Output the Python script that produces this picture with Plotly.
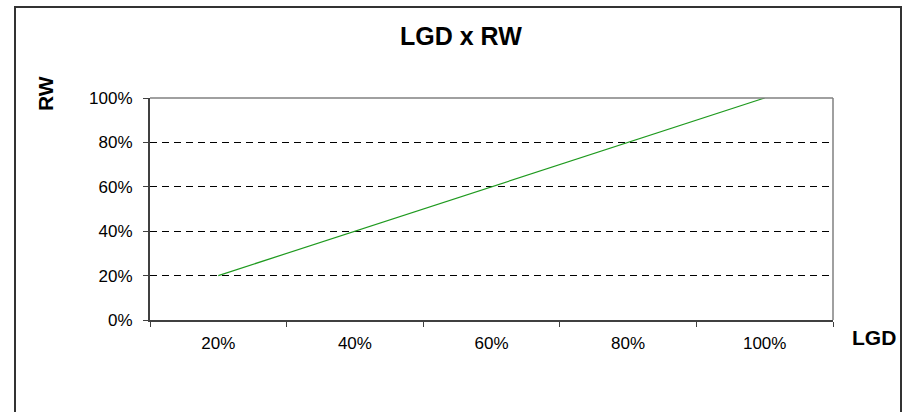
import plotly.graph_objects as go

lgd_labels = ["20%", "40%", "60%", "80%", "100%"]
rw_values = [0.2, 0.4, 0.6, 0.8, 1.0]

W, H = 905, 412
L, R, T, B = 150, 72, 98, 92
pw, ph = W - L - R, H - T - B

def px(x):
    return (x - L) / pw

def py(y):
    return (H - B - y) / ph

fig = go.Figure()
fig.add_trace(go.Scatter(
    x=lgd_labels, y=rw_values, mode="lines",
    line=dict(color="#1f9a1f", width=1.2),
    showlegend=False, hoverinfo="skip", cliponaxis=False,
))

font_family = "Liberation Sans, Arial, sans-serif"

fig.update_layout(
    width=W, height=H,
    margin=dict(l=L, r=R, t=T, b=B, pad=0),
    paper_bgcolor="white", plot_bgcolor="white",
    font=dict(family=font_family, color="black", size=17),
    xaxis=dict(
        type="category", tickson="boundaries", range=[-0.5, 4.5],
        showgrid=False, showline=True, linecolor="#404040", linewidth=2,
        ticks="outside", ticklen=5, tickcolor="#404040", tickwidth=1,
        tickfont=dict(size=17, color="black"), zeroline=False,
        ticklabelstandoff=7,
    ),
    yaxis=dict(
        range=[0, 1], dtick=0.2, tick0=0, tickformat=".0%",
        showgrid=True, gridcolor="black", gridwidth=1, griddash="7px,5px",
        showline=True, linecolor="#404040", linewidth=2,
        ticks="outside", ticklen=5, tickcolor="#404040", tickwidth=1,
        tickfont=dict(size=17, color="black"), zeroline=False,
        ticklabelstandoff=7,
    ),
    shapes=[
        dict(type="line", xref="paper", yref="paper", x0=0, x1=1, y0=1, y1=1,
             line=dict(color="#808080", width=1.5), layer="above"),
        dict(type="line", xref="paper", yref="paper", x0=1, x1=1, y0=0, y1=1,
             line=dict(color="#808080", width=1.5), layer="above"),
        dict(type="rect", xref="paper", yref="paper",
             x0=px(15), x1=px(901), y0=py(420), y1=py(7),
             line=dict(color="#333333", width=2), layer="above"),
    ],
    annotations=[
        dict(text="<b>LGD x RW</b>", xref="paper", yref="paper",
             x=px(461), y=py(36), showarrow=False, xanchor="center", yanchor="middle",
             font=dict(size=25, family=font_family, color="black")),
        dict(text="<b>RW</b>", xref="paper", yref="paper",
             x=px(46), y=py(94), showarrow=False, textangle=-90,
             xanchor="center", yanchor="middle",
             font=dict(size=21, family=font_family, color="black")),
        dict(text="<b>LGD</b>", xref="paper", yref="paper",
             x=px(874), y=py(337), showarrow=False,
             xanchor="center", yanchor="middle",
             font=dict(size=21, family=font_family, color="black")),
    ],
)

fig.write_html(
    "out.html",
    config={"displayModeBar": False},
    post_script="document.body.style.margin='0';document.body.style.overflow='hidden';",
)
